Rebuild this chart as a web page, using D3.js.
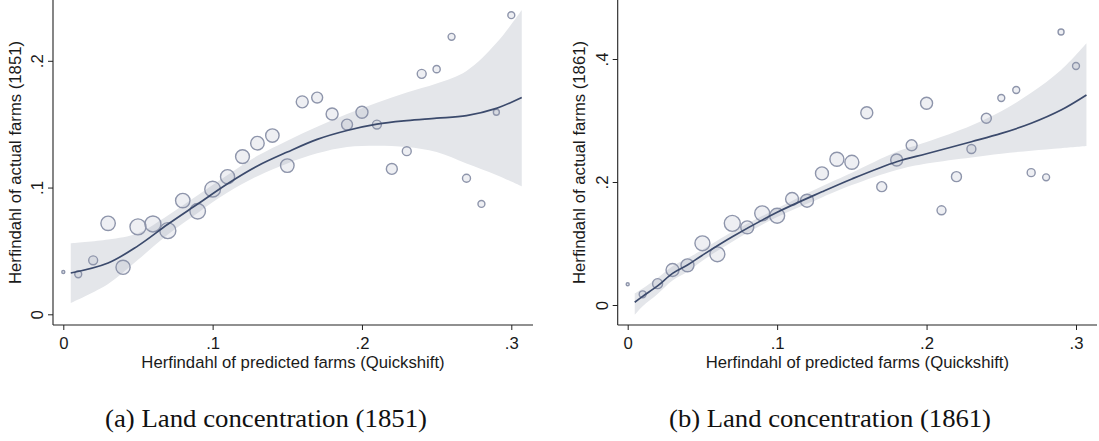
<!DOCTYPE html>
<html>
<head>
<meta charset="utf-8">
<script src="https://cdn.jsdelivr.net/npm/d3@7"></script>
<style>
  html, body { margin: 0; padding: 0; background: #fff; }
  svg { display: block; }
  .tick text, .axis-title { font-family: "Liberation Sans", Arial, sans-serif; fill: #1a1a1a; }
  .caption { font-family: "Liberation Serif", "Times New Roman", serif; fill: #111; }
</style>
</head>
<body>
<svg id="chart" width="1099" height="441"></svg>
<script>
// Binned predicted Herfindahl (x) shared by both panels
const binX = [0.00, 0.01, 0.02, 0.03, 0.04, 0.05, 0.06, 0.07, 0.08, 0.09,
              0.10, 0.11, 0.12, 0.13, 0.14, 0.15, 0.16, 0.17, 0.18, 0.19,
              0.20, 0.21, 0.22, 0.23, 0.24, 0.25, 0.26, 0.27, 0.28, 0.29, 0.30];

// Panel (a): actual Herfindahl 1851, with bin weights
const actual1851 = [0.0334, 0.0316, 0.0426, 0.0718, 0.0371, 0.0690, 0.0713, 0.0660, 0.0897, 0.0813,
                    0.0987, 0.1086, 0.1244, 0.1350, 0.1410, 0.1173, 0.1676, 0.1710, 0.1580, 0.1497,
                    0.1594, 0.1497, 0.1147, 0.1287, 0.1897, 0.1934, 0.2189, 0.1073, 0.0871, 0.1594, 0.2360];
const weight1851 = [2.3, 12, 20, 52, 50, 64, 64, 64, 52, 60,
                    62, 50, 48, 46, 45, 46, 36, 30, 36, 30,
                    36, 20, 30, 20, 20, 13, 12, 16, 12, 9, 12];

// Panel (a): local polynomial fit and 95% band
const fitX1851 = [0.005, 0.03, 0.05, 0.07, 0.09, 0.11, 0.13, 0.15, 0.17, 0.19, 0.21, 0.23, 0.25, 0.27, 0.29, 0.307];
const fit1851  = [0.0326, 0.0405, 0.054, 0.071, 0.087, 0.103, 0.117, 0.128, 0.138, 0.145, 0.150, 0.1528, 0.1547, 0.1568, 0.1625, 0.171];
const hi1851   = [0.056, 0.059, 0.064, 0.078, 0.094, 0.110, 0.125, 0.137, 0.148, 0.158, 0.167, 0.175, 0.182, 0.192, 0.214, 0.240];
const lo1851   = [0.009, 0.024, 0.043, 0.063, 0.080, 0.096, 0.109, 0.119, 0.127, 0.132, 0.133, 0.132, 0.128, 0.119, 0.110, 0.101];

// Panel (b): actual Herfindahl 1861, with bin weights
const actual1861 = [0.0337, 0.0174, 0.0347, 0.0569, 0.0645, 0.1003, 0.0824, 0.1328, 0.1263, 0.1490,
                    0.1452, 0.1724, 0.1696, 0.2140, 0.2369, 0.2320, 0.3127, 0.1924, 0.2358, 0.2597,
                    0.3280, 0.1540, 0.2087, 0.2537, 0.3036, 0.3366, 0.3496, 0.2152, 0.2076, 0.4439, 0.3886];
const weight1861 = [2.3, 12, 25, 42, 42, 56, 56, 64, 42, 56,
                    56, 42, 42, 42, 49, 49, 36, 25, 36, 30,
                    36, 20, 25, 20, 25, 12, 12, 16, 12, 9, 12];

// Panel (b): local polynomial fit and 95% band
const fitX1861 = [0.0047, 0.01, 0.02, 0.03, 0.04, 0.05, 0.07, 0.10, 0.13, 0.15, 0.18, 0.20, 0.23, 0.25, 0.27, 0.29, 0.307];
const fit1861  = [0.0044, 0.014, 0.031, 0.0515, 0.065, 0.081, 0.111, 0.1507, 0.184, 0.205, 0.233, 0.246, 0.2655, 0.279, 0.2955, 0.317, 0.3415];
const hi1861   = [0.019, 0.027, 0.044, 0.063, 0.076, 0.090, 0.119, 0.157, 0.193, 0.215, 0.249, 0.265, 0.292, 0.315, 0.345, 0.382, 0.4255];
const lo1861   = [-0.016, -0.002, 0.018, 0.040, 0.054, 0.072, 0.103, 0.143, 0.175, 0.195, 0.2195, 0.230, 0.240, 0.246, 0.251, 0.255, 0.2585];

// Axis ticks and text
const xTicks = [0, 0.1, 0.2, 0.3];
const yTicks1851 = [0, 0.1, 0.2];
const yTicks1861 = [0, 0.2, 0.4];
const xTitle = "Herfindahl of predicted farms (Quickshift)";
const yTitle1851 = "Herfindahl of actual farms (1851)";
const yTitle1861 = "Herfindahl of actual farms (1861)";
const caption1851 = "(a) Land concentration (1851)";
const caption1861 = "(b) Land concentration (1861)";

const svg = d3.select("#chart");
const fmt = v => v === 0 ? "0" : d3.format(".1f")(v).replace(/^0/, "");
const axisFont = "16.7px";

function panel(cfg) {
  const g = svg.append("g");
  const x = d3.scaleLinear().domain([0, 0.3]).range(cfg.xRange);
  const y = d3.scaleLinear().domain(cfg.yDomain).range(cfg.yRange);
  const r = d3.scaleSqrt().domain([0, 64]).range([0, 8]);
  const smooth = d3.curveCatmullRom.alpha(0.5);

  // confidence band
  const band = d3.area()
    .x((d, i) => x(cfg.fitX[i]))
    .y0((d, i) => y(cfg.lo[i]))
    .y1((d, i) => y(cfg.hi[i]))
    .curve(smooth);
  g.append("path").datum(cfg.fit).attr("d", band).attr("fill", "#e4e6ea");

  // binned scatter, hollow markers sized by weight
  g.selectAll("circle.bin").data(binX).join("circle")
    .attr("class", "bin")
    .attr("cx", d => x(d))
    .attr("cy", (d, i) => y(cfg.actual[i]))
    .attr("r", (d, i) => r(cfg.weight[i]))
    .attr("fill", "rgba(150,158,180,0.16)")
    .attr("stroke", "#8e95ab")
    .attr("stroke-width", 1.4);

  // fitted line
  const line = d3.line()
    .x((d, i) => x(cfg.fitX[i]))
    .y(d => y(d))
    .curve(smooth);
  g.append("path").datum(cfg.fit).attr("d", line)
    .attr("fill", "none").attr("stroke", "#3b4a6c").attr("stroke-width", 1.7);

  // frame lines
  const [fx0, fx1] = cfg.frameX, [fy0, fy1] = cfg.frameY;
  g.append("line").attr("x1", fx0).attr("x2", fx0).attr("y1", fy0).attr("y2", fy1)
    .attr("stroke", "#222").attr("stroke-width", 1.1);
  g.append("line").attr("x1", fx0).attr("x2", fx1).attr("y1", fy1).attr("y2", fy1)
    .attr("stroke", "#222").attr("stroke-width", 1.1);

  // x axis
  const xa = g.append("g").attr("transform", `translate(0,${fy1})`)
    .call(d3.axisBottom(x).tickValues(xTicks).tickFormat(fmt).tickSize(5).tickPadding(7));
  xa.select(".domain").remove();
  xa.selectAll(".tick line").attr("stroke", "#222");
  xa.selectAll(".tick text").attr("font-size", axisFont);

  // y axis, labels turned vertical
  const ya = g.append("g").attr("transform", `translate(${fx0},0)`)
    .call(d3.axisLeft(y).tickValues(cfg.yTicks).tickFormat(fmt).tickSize(5));
  ya.select(".domain").remove();
  ya.selectAll(".tick line").attr("stroke", "#222");
  ya.selectAll(".tick text")
    .attr("font-size", axisFont)
    .attr("x", null).attr("dy", null)
    .attr("text-anchor", "middle")
    .attr("transform", "translate(-10,0) rotate(-90)");

  // titles
  g.append("text").attr("class", "axis-title")
    .attr("x", (fx0 + fx1) / 2).attr("y", fy1 + 43)
    .attr("text-anchor", "middle").attr("font-size", axisFont)
    .text(xTitle);
  g.append("text").attr("class", "axis-title")
    .attr("transform", `translate(${cfg.yTitleX},${(fy0 + fy1) / 2}) rotate(-90)`)
    .attr("text-anchor", "middle").attr("font-size", axisFont)
    .text(cfg.yTitle);

  // caption
  g.append("text").attr("class", "caption")
    .attr("x", cfg.captionX).attr("y", 427)
    .attr("text-anchor", "middle").attr("font-size", "25px")
    .attr("textLength", 322).attr("lengthAdjust", "spacingAndGlyphs")
    .text(cfg.caption);
}

panel({
  xRange: [63.3, 511.3], yDomain: [0, 0.2], yRange: [314.3, 60.8],
  frameX: [53, 533], frameY: [0, 325],
  actual: actual1851, weight: weight1851,
  fitX: fitX1851, fit: fit1851, hi: hi1851, lo: lo1851,
  yTicks: yTicks1851, yTitle: yTitle1851, yTitleX: 21,
  caption: caption1851, captionX: 266
});

panel({
  xRange: [627.7, 1076], yDomain: [0, 0.4], yRange: [305, 59],
  frameX: [617.7, 1097], frameY: [0, 325],
  actual: actual1861, weight: weight1861,
  fitX: fitX1861, fit: fit1861, hi: hi1861, lo: lo1861,
  yTicks: yTicks1861, yTitle: yTitle1861, yTitleX: 585,
  caption: caption1861, captionX: 830
});
</script>
</body>
</html>
